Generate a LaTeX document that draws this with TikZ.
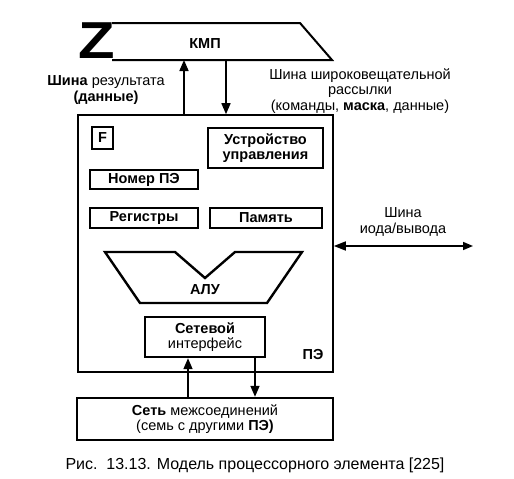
\documentclass[tikz,border=0pt]{standalone}
\usepackage{fontspec}
\setmainfont{Liberation Sans}
\usetikzlibrary{arrows.meta,positioning,calc}

\newcommand{\pefont}{\fontsize{14.5}{15.5}\selectfont}
\tikzset{
  unitbox/.style={draw, line width=2.4pt, font=\pefont\bfseries, align=center, inner sep=0pt},
  bus/.style={line width=1.6pt, -{Triangle[length=11pt,width=9pt]}},
  lbl/.style={align=center, inner sep=0pt, font=\pefont}
}

\begin{document}
\begin{tikzpicture}[x=1pt, y=-1pt, font=\pefont]
\useasboundingbox (0,0) rectangle (514,479);

% Commutator (KMP)
\node[font=\fontsize{52}{52}\selectfont\bfseries, inner sep=0pt] (zz) at (97,41) {\scalebox{1.15}[1]{Z}};
\draw[line width=2pt] (112,23) -- (300,23) -- (332,60) -- (112,60);
\node[font=\pefont\bfseries] (kmp) at (205,44) {КМП};
\coordinate (kmpres) at (184,60);
\coordinate (kmpcast) at (226,60);

% Processing element
\node[draw, line width=1.6pt, minimum width=255pt, minimum height=257pt] (pe) at (205.5,243.5) {};
\node[font=\pefont\bfseries] (pename) at (313,355) {ПЭ};

\node[unitbox, minimum width=21pt, minimum height=22pt] (flag) at (102.5,138) {F};
\node[unitbox, minimum width=115pt, minimum height=40pt] (cu) at (265.5,148) {Устройство\\управления};
\node[unitbox, minimum width=108pt, minimum height=19pt] (num) at (144,179.5) {Номер ПЭ};
\node[unitbox, minimum width=108pt, minimum height=20pt] (regs) at (144,218) {Регистры};
\node[unitbox, minimum width=112pt, minimum height=20pt] (mem) at (266,218) {Память};

% ALU
\draw[line width=2.4pt, line join=miter] (105,252) -- (175,252) -- (205,278) -- (235,252)
  -- (302,252) -- (267,303) -- (140,303) -- cycle;
\node[font=\pefont\bfseries] (alu) at (205,290) {АЛУ};

% Network interface
\node[unitbox, font=\pefont, minimum width=120pt, minimum height=40pt] (net) at (205,337)
  {\textbf{Сетевой}\\интерфейс};

% Interconnection network
\node[unitbox, font=\pefont, minimum width=256pt, minimum height=42pt] (link) at (205,419)
  {\textbf{Сеть} межсоединений\\(семь с другими \textbf{ПЭ)}};

% Buses
\draw[bus] (pe.north -| kmpres) -- (kmpres);
\draw[bus] (kmpcast) -- (kmpcast |- pe.north);
\coordinate (upx) at (188,0);
\coordinate (downx) at (255,0);
\draw[bus] (link.north -| upx) -- (net.south -| upx);
\draw[bus] (net.south -| downx) -- (link.north -| downx);
\coordinate (io) at (473,246);
\draw[line width=1.6pt, {Triangle[length=12pt,width=9pt]}-{Triangle[length=10pt,width=8pt]}] (pe.east |- io) -- (io);

% Labels
\node[lbl] (resbus) at (106,90) {\textbf{Шина} результата\\\textbf{(данные)}};
\node[lbl] (castbus) at (360,91) {Шина широковещательной\\рассылки\\(команды, \textbf{маска}, данные)};
\node[lbl] (iobus) at (403,222) {Шина\\иода/вывода};
\node[lbl, font=\fontsize{16}{17}\selectfont] (caption) at (255,465) {Рис.\ \ 13.13. Модель процессорного элемента [225]};
\end{tikzpicture}
\end{document}
